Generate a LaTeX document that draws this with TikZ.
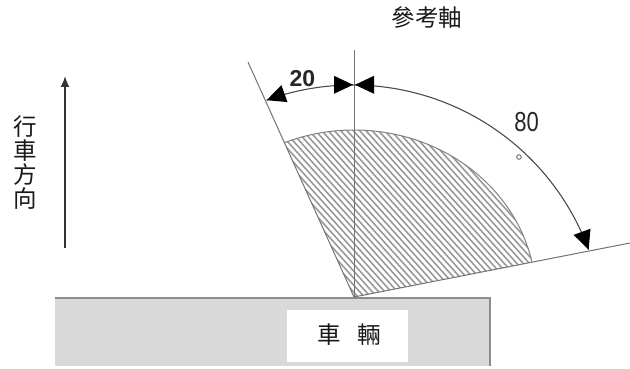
\documentclass[tikz,border=0pt]{standalone}
\usepackage{fontspec}
\usepackage{graphicx}
\setmainfont{Liberation Sans}
\newfontfamily\cjk{Noto Sans CJK TC}
\usetikzlibrary{arrows.meta}
\begin{document}
\begin{tikzpicture}[x=1pt,y=-1pt,
  refline/.style={draw=black!55,line width=1pt},
  dimline/.style={draw=black!70,line width=1.1pt},
  hatchline/.style={draw=black!40,line width=1.6pt},
  tip/.style={fill=black},
  cjklabel/.style={inner sep=0pt,font=\cjk\fontsize{23.5}{24}\selectfont,text=black!90},
  numlabel/.style={inner sep=0pt,text=black!85}]
\useasboundingbox (0,0) rectangle (630,369);
% key points
\coordinate (O) at (354,297);
\coordinate (Atop) at (354,50);
\coordinate (Ltop) at (248,62);
\coordinate (Rend) at (630,243);
% vehicle
\fill[black!15] (55,298) rectangle (490,366);
\draw[black!45,line width=1.5pt] (55,298) -- (490,298) -- (490,366);
\node[fill=white,minimum width=121pt,minimum height=52pt,inner sep=0pt] (box) at (347.5,336) {};
\node[cjklabel] (veh) at (349,335) {車\hspace{0.7em}輛};
% hatched region
\begin{scope}
\clip (O) -- plot[domain=12:112.5,samples=80] ({354+182*cos(\x)},{297-167*sin(\x)}) -- cycle;
\foreach \k in {80,86.3,...,545} {
  \draw[hatchline] (\k,100) -- ({\k+180},300);
}
\end{scope}
\draw[draw=black!50,line width=1pt] plot[domain=12:112.5,samples=80] ({354+182*cos(\x)},{297-167*sin(\x)});
% reference lines
\draw[refline] (O) -- (Atop);
\draw[refline] (O) -- (Ltop);
\draw[refline] (O) -- (Rend);
% dimension arc
\draw[dimline] plot[domain=20.2:110,samples=90] ({352.6+251.5*cos(\x)},{336.5-251.5*sin(\x)});
% arrow heads
\fill[tip] (266.6,100.2) -- (287.5,102.1) -- (281.4,85.2) -- cycle;
\fill[tip] (353,84.8) -- (334,75.8) -- (334,93.8) -- cycle;
\fill[tip] (355,84.8) -- (374,75.8) -- (374,93.8) -- cycle;
\fill[tip] (588.6,249.7) -- (590.5,228.7) -- (573.6,234.9) -- cycle;
% labels
\node[numlabel,font=\bfseries\fontsize{23}{24}\selectfont] (d20) at (302.5,79) {20};
\node[numlabel,font=\fontsize{27.5}{30}\selectfont] (d80) at (526.5,122) {\scalebox{0.8}[1]{80}};
\draw[black!60,line width=0.9pt] (519,157) circle (2.3pt);
\node[cjklabel] (axis) at (427,18) {參考軸};
\node[cjklabel,align=center] (dir) at (25,163) {行\\車\\方\\向};
% driving direction arrow
\draw[black!80,line width=1.8pt,-{Latex[length=11pt,width=9pt]}] (65,248) -- (65,76);
\end{tikzpicture}
\end{document}
